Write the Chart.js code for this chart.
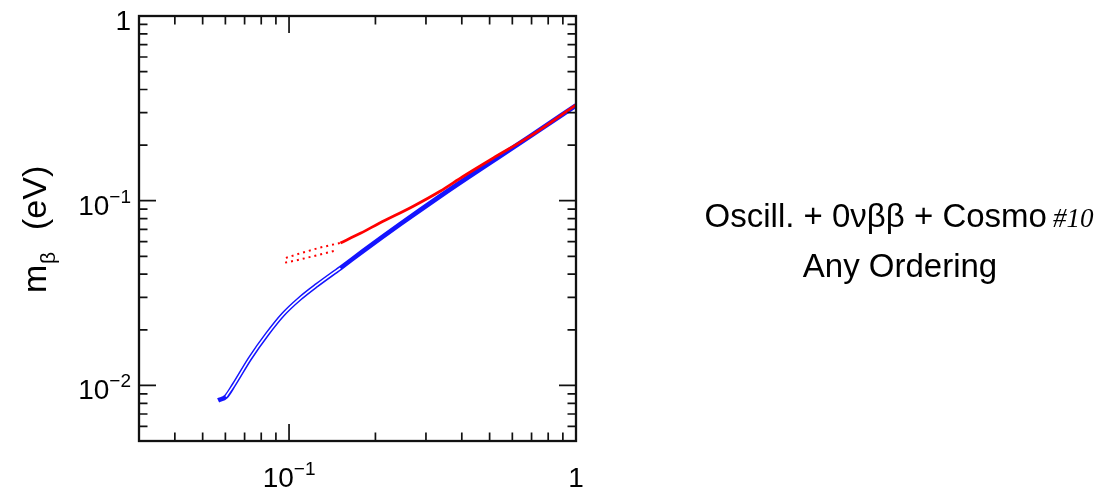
<!DOCTYPE html>
<html>
<head>
<meta charset="utf-8">
<script src="https://cdn.jsdelivr.net/npm/chart.js@4.4.1/dist/chart.umd.min.js"></script>
<style>
  html, body { margin: 0; padding: 0; background: #fff; }
  canvas { display: block; }
</style>
</head>
<body>
<canvas id="mbeta" width="1113" height="492"></canvas>
<script>
// sum of neutrino masses (eV) -> m_beta (eV)
const noSum = [0.0566, 0.0603, 0.0643, 0.0731, 0.0838, 0.0953, 0.109, 0.125, 0.151, 0.181, 0.244, 0.336, 0.417, 0.514, 0.691, 1.0];
const noMb  = [0.0083, 0.0087, 0.0101, 0.0140, 0.0189, 0.0242, 0.0295, 0.0349, 0.0432, 0.0533, 0.0746, 0.1057, 0.1327, 0.1645, 0.2232, 0.328];

const ioSum = [0.151, 0.178, 0.207, 0.27, 0.336, 0.404, 0.514, 0.69, 1.0];
const ioMb  = [0.0591, 0.0668, 0.0757, 0.0931, 0.1125, 0.1353, 0.170, 0.223, 0.33];

// dotted contour edges of the inverted branch near its low end
const ioHiSum = [0.0975, 0.109, 0.128, 0.151];
const ioHiMb  = [0.0490, 0.0518, 0.0557, 0.0591];
const ioLoSum = [0.0969, 0.109, 0.128, 0.145];
const ioLoMb  = [0.0462, 0.0480, 0.0511, 0.0537];

const xMajor = [0.1, 1];
const xMinor = [0.04, 0.05, 0.06, 0.07, 0.08, 0.09, 0.2, 0.3, 0.4, 0.5, 0.6, 0.7, 0.8, 0.9];
const yMajor = [0.01, 0.1, 1];
const yMinor = [0.006, 0.007, 0.008, 0.009, 0.02, 0.03, 0.04, 0.05, 0.06, 0.07, 0.08, 0.09,
                0.2, 0.3, 0.4, 0.5, 0.6, 0.7, 0.8, 0.9];

const yTitle = ['m', 'β', '(eV)'];
const caption = ['Oscill. + 0νββ + Cosmo', '#10', 'Any Ordering'];

const SANS = '"Liberation Sans", Arial, Helvetica, sans-serif';
const SERIF = '"Liberation Serif", "Times New Roman", serif';

const pts = (xs, ys) => xs.map((x, i) => ({ x, y: ys[i] }));

// "1" or "10" with a raised exponent
function powerLabel(ctx, v, x, y, align) {
  const exp = Math.round(Math.log10(v));
  const base = exp === 0 ? '1' : '10';
  const sup = exp === 0 ? '' : (exp < 0 ? '\u2212' : '') + Math.abs(exp);
  ctx.font = '28px ' + SANS;
  const wb = ctx.measureText(base).width;
  ctx.font = '19px ' + SANS;
  const ws = ctx.measureText(sup).width;
  const x0 = align === 'right' ? x - wb - ws : x - (wb + ws) / 2;
  ctx.textAlign = 'left';
  ctx.textBaseline = 'alphabetic';
  ctx.font = '28px ' + SANS;
  ctx.fillText(base, x0, y);
  if (sup) {
    ctx.font = '19px ' + SANS;
    ctx.fillText(sup, x0 + wb, y - 12);
  }
}

const frame = {
  id: 'frame',
  afterDatasetsDraw(chart) {
    const { ctx, chartArea: a, scales: { x, y } } = chart;
    ctx.save();
    ctx.strokeStyle = '#111';
    ctx.lineWidth = 1.7;
    ctx.beginPath();
    [[xMajor, 17], [xMinor, 8.5]].forEach(([list, len]) => {
      list.forEach(v => {
        const px = x.getPixelForValue(v);
        ctx.moveTo(px, a.bottom); ctx.lineTo(px, a.bottom - len);
        ctx.moveTo(px, a.top); ctx.lineTo(px, a.top + len);
      });
    });
    [[yMajor, 17], [yMinor, 8.5]].forEach(([list, len]) => {
      list.forEach(v => {
        const py = y.getPixelForValue(v);
        ctx.moveTo(a.left, py); ctx.lineTo(a.left + len, py);
        ctx.moveTo(a.right, py); ctx.lineTo(a.right - len, py);
      });
    });
    ctx.stroke();
    ctx.lineWidth = 2.3;
    ctx.strokeRect(a.left, a.top, a.right - a.left, a.bottom - a.top);

    ctx.fillStyle = '#000';
    xMajor.forEach(v => powerLabel(ctx, v, x.getPixelForValue(v), 487, 'center'));
    yMajor.forEach(v => powerLabel(ctx, v, 131, y.getPixelForValue(v) + 14, 'right'));

    // rotated axis title with subscript
    ctx.translate(46, 293);
    ctx.rotate(-Math.PI / 2);
    ctx.textAlign = 'left';
    ctx.font = '34px ' + SANS;
    ctx.fillText(yTitle[0], 0, 0);
    ctx.font = '21px ' + SANS;
    ctx.fillText(yTitle[1], 29, 9);
    ctx.font = '34px ' + SANS;
    ctx.fillText(yTitle[2], 63, 0);
    ctx.restore();

    // caption to the right of the frame
    ctx.save();
    ctx.fillStyle = '#000';
    ctx.textBaseline = 'alphabetic';
    ctx.font = '33px ' + SANS;
    const w1 = ctx.measureText(caption[0]).width;
    ctx.font = 'italic 27px ' + SERIF;
    const w2 = ctx.measureText(caption[1]).width;
    const gap = 6;
    const x0 = 899 - (w1 + gap + w2) / 2;
    ctx.textAlign = 'left';
    ctx.font = '33px ' + SANS;
    ctx.fillText(caption[0], x0, 227);
    ctx.font = 'italic 27px ' + SERIF;
    ctx.fillText(caption[1], x0 + w1 + gap, 227);
    ctx.textAlign = 'center';
    ctx.font = '33px ' + SANS;
    ctx.fillText(caption[2], 900, 277);
    ctx.restore();
  }
};

const BLUE = 'rgb(20, 20, 255)';
const RED = 'rgb(255, 0, 0)';

new Chart(document.getElementById('mbeta'), {
  type: 'scatter',
  data: {
    datasets: [
      {
        data: pts(ioSum, ioMb), showLine: true, borderColor: RED, borderWidth: 2.8,
        pointRadius: 0, cubicInterpolationMode: 'monotone', order: 1
      },
      {
        data: pts(ioHiSum, ioHiMb), showLine: true, borderColor: RED, borderWidth: 2,
        borderDash: [2, 4], pointRadius: 0, order: 2
      },
      {
        data: pts(ioLoSum, ioLoMb), showLine: true, borderColor: RED, borderWidth: 2,
        borderDash: [2, 4], pointRadius: 0, order: 2
      },
      {
        // hollow centre of the blue band
        data: pts(noSum.slice(1, 9), noMb.slice(1, 9)), showLine: true, borderColor: '#fff',
        borderWidth: 1.6, pointRadius: 0, cubicInterpolationMode: 'monotone', order: 3
      },
      {
        data: pts(noSum, noMb), showLine: true, borderColor: BLUE, borderWidth: 4.6,
        pointRadius: 0, cubicInterpolationMode: 'monotone', order: 4
      }
    ]
  },
  options: {
    responsive: false,
    animation: false,
    devicePixelRatio: 1,
    layout: { padding: { left: 139, top: 16, right: 537, bottom: 51 } },
    plugins: { legend: { display: false }, tooltip: { enabled: false } },
    scales: {
      x: { type: 'logarithmic', min: 0.03, max: 1, display: false },
      y: { type: 'logarithmic', min: 0.005, max: 1, display: false }
    }
  },
  plugins: [frame]
});
</script>
</body>
</html>
